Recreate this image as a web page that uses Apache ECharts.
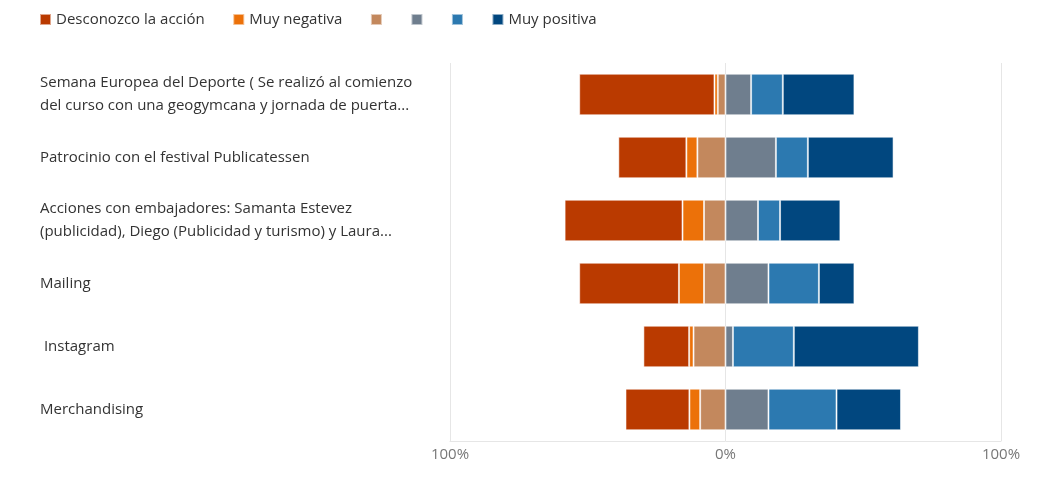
<!DOCTYPE html>
<html>
<head>
<meta charset="utf-8">
<script src="https://cdn.jsdelivr.net/npm/echarts@6/dist/echarts.min.js"></script>
<style>
html,body{margin:0;padding:0;background:#fff;}
#chart{width:1047px;height:492px;}
</style>
</head>
<body>
<div id="chart"></div>
<script>
// Categories (top to bottom)
const categories = [
  "Semana Europea del Deporte ( Se realizó al comienzo\ndel curso con una geogymcana y jornada de puerta...",
  "Patrocinio con el festival Publicatessen",
  "Acciones con embajadores: Samanta Estevez\n(publicidad), Diego (Publicidad y turismo) y Laura...",
  "Mailing",
  " Instagram",
  "Merchandising"
];
// Percentages per response level
const desconozco  = [49.1, 24.7, 42.8, 36.2, 16.6, 23.2];
const muyNegativa = [1.2, 4.0, 7.8, 9.1, 1.6, 3.9];
const nivel2      = [2.8, 10.2, 7.8, 7.8, 11.6, 9.2];
const nivel3      = [9.3, 18.3, 11.8, 15.6, 2.7, 15.6];
const nivel4      = [11.5, 11.6, 8.0, 18.3, 22.1, 24.7];
const muyPositiva = [26.0, 31.1, 21.9, 12.9, 45.4, 23.4];
// Legend labels (internal key -> shown text)
const legendKeys   = ["Desconozco la acción", "Muy negativa", "Nivel 2", "Nivel 3", "Nivel 4", "Muy positiva"];
const legendLabels = ["Desconozco la acción", "Muy negativa", "", "", "", "Muy positiva"];
// Axis ticks
const axisMin = -100, axisMax = 100, axisStep = 100;

const colors = {
  "Desconozco la acción": "#BA3A00",
  "Muy negativa": "#EC7109",
  "Nivel 2": "#C3885D",
  "Nivel 3": "#6F7E8E",
  "Nivel 4": "#2C79B0",
  "Muy positiva": "#01477F"
};
const FONT = "'Segoe UI', 'Open Sans', sans-serif";

function mk(name, vals, neg) {
  return {
    name: name,
    type: 'bar',
    stack: 'total',
    barWidth: '66%',
    data: vals.map(v => neg ? -v : v),
    itemStyle: { color: colors[name], borderColor: 'rgba(255,255,255,0.55)', borderWidth: 1 },
    emphasis: { disabled: true }
  };
}

const chart = echarts.init(document.getElementById('chart'));
chart.setOption({
  animation: false,
  legend: {
    left: 34, top: 7,
    itemWidth: 11, itemHeight: 11, itemGap: 27.5,
    icon: 'rect',
    data: legendKeys,
    formatter: n => legendLabels[legendKeys.indexOf(n)],
    textStyle: { color: '#333', fontSize: 15, fontFamily: FONT }
  },
  grid: { left: 450, right: 46, top: 63, bottom: 51, containLabel: false },
  xAxis: {
    type: 'value', min: axisMin, max: axisMax, interval: axisStep,
    axisLine: { show: true, onZero: false, lineStyle: { color: '#e6e6e6', width: 1 } },
    axisTick: { show: false },
    splitLine: { show: true, lineStyle: { color: '#e6e6e6', width: 1 } },
    axisLabel: { formatter: v => Math.abs(v) + '%', color: '#777', fontSize: 15, fontFamily: FONT, margin: 6 }
  },
  yAxis: {
    type: 'category', data: categories, inverse: true,
    axisLine: { show: false },
    axisTick: { show: false },
    axisLabel: { align: 'left', margin: 410, color: '#333', fontSize: 15, fontFamily: FONT, lineHeight: 23 }
  },
  series: [
    mk("Nivel 2", nivel2, true),
    mk("Muy negativa", muyNegativa, true),
    mk("Desconozco la acción", desconozco, true),
    mk("Nivel 3", nivel3, false),
    mk("Nivel 4", nivel4, false),
    mk("Muy positiva", muyPositiva, false)
  ]
});
</script>
</body>
</html>
